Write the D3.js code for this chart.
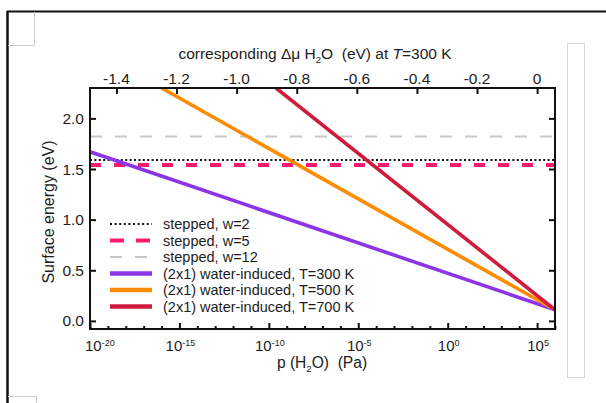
<!DOCTYPE html>
<html><head><meta charset="utf-8">
<script src="https://cdn.jsdelivr.net/npm/d3@7"></script>
<style>
body{margin:0;background:#fff}
text{font-family:"Liberation Sans",Arial,sans-serif;fill:#1c1c1c}
</style>
</head><body><svg id="c" width="606" height="403"></svg>
<script>
// ---- data ----
const pressureExpExtent = [-20, 6];          // log10 p (Pa) across the plot
const energyExtent = [-0.08, 2.3];           // eV
const muExtent = [-1.488, 0.0595];           // Δμ (eV) at 300 K across the plot
const bottomMajorExp = [-20, -15, -10, -5, 0, 5];
const bottomMajorLabels = ["-20", "-15", "-10", "-5", "0", "5"];
const bottomMinorExp = [-19,-18,-17,-16,-14,-13,-12,-11,-9,-8,-7,-6,-4,-3,-2,-1,1,2,3,4,6];
const topTickValues = [-1.4, -1.2, -1.0, -0.8, -0.6, -0.4, -0.2, 0];
const topTickLabels = ["-1.4", "-1.2", "-1.0", "-0.8", "-0.6", "-0.4", "-0.2", "0"];
const leftTickValues = [0, 0.5, 1.0, 1.5, 2.0];
const leftTickLabels = ["0.0", "0.5", "1.0", "1.5", "2.0"];

const steppedNames = ["stepped, w=2", "stepped, w=5", "stepped, w=12"];
const steppedEnergy = [1.59, 1.54, 1.82];

const waterNames = ["(2x1) water-induced, T=300 K", "(2x1) water-induced, T=500 K", "(2x1) water-induced, T=700 K"];
const waterStartExp = [-20, -16.0, -9.6];
const waterStartEnergy = [1.67, 2.30, 2.30];
const waterEndExp = [6, 6, 6];
const waterEndEnergy = [0.11, 0.11, 0.11];

// ---- styles ----
const steppedStyle = [
  {color: "#111", width: 2, dash: "2,2.4"},
  {color: "#ff1a70", width: 4, dash: "11,13"},
  {color: "#c8c8c8", width: 2, dash: "12,13"}
];
const waterColors = ["#8c35e8", "#ff8c00", "#d01c3c"];

const svg = d3.select("#c");

// page decorations
svg.append("line").attr("x1", 7).attr("x2", 606).attr("y1", 11.5).attr("y2", 11.5).attr("stroke", "#111").attr("stroke-width", 2);
svg.append("line").attr("x1", 7.5).attr("x2", 7.5).attr("y1", 11).attr("y2", 403).attr("stroke", "#111").attr("stroke-width", 2.5);
svg.append("path").attr("d", "M8,45.5H34.5V12").attr("fill", "none").attr("stroke", "#cfcfcf");
svg.append("path").attr("d", "M8,396.5H36.5V403").attr("fill", "none").attr("stroke", "#cfcfcf");
svg.append("rect").attr("x", 567.5).attr("y", 43.5).attr("width", 17).attr("height", 334).attr("fill", "none").attr("stroke", "#d6d6d6");

const L = 90, R = 555, T = 88, B = 329;
const x = d3.scaleLinear().domain(pressureExpExtent).range([L, R]);
const xTop = d3.scaleLinear().domain(muExtent).range([L, R]);
const y = d3.scaleLinear().domain(energyExtent).range([B, T]);

// clip
svg.append("clipPath").attr("id", "clip").append("rect").attr("x", L).attr("y", T).attr("width", R - L).attr("height", B - T);

const plot = svg.append("g").attr("clip-path", "url(#clip)");

// stepped lines
steppedEnergy.forEach((e, i) => {
  const s = steppedStyle[i];
  plot.append("line")
    .attr("x1", x(pressureExpExtent[0])).attr("x2", x(pressureExpExtent[1]))
    .attr("y1", y(e)).attr("y2", y(e))
    .attr("stroke", s.color).attr("stroke-width", s.width).attr("stroke-dasharray", s.dash);
});

// water-induced lines
const line = d3.line().x(d => x(d[0])).y(d => y(d[1]));
waterNames.forEach((n, i) => {
  plot.append("path")
    .attr("d", line([[waterStartExp[i], waterStartEnergy[i]], [waterEndExp[i], waterEndEnergy[i]]]))
    .attr("fill", "none").attr("stroke", waterColors[i]).attr("stroke-width", 3.6);
});

// axes ticks (inward)
function styleAxis(g) {
  g.select(".domain").remove();
  g.selectAll(".tick line").attr("stroke", "#111").attr("stroke-width", 2);
  g.selectAll(".tick text").remove();
}
svg.append("g").attr("transform", `translate(0,${B})`)
  .call(d3.axisBottom(x).tickValues(bottomMajorExp).tickSize(-6).tickFormat(""))
  .call(styleAxis);
svg.append("g").attr("transform", `translate(0,${B})`)
  .call(d3.axisBottom(x).tickValues(bottomMinorExp).tickSize(-3).tickFormat(""))
  .call(styleAxis);
svg.append("g").attr("transform", `translate(0,${T})`)
  .call(d3.axisTop(xTop).tickValues(topTickValues).tickSize(-6).tickFormat(""))
  .call(styleAxis);
svg.append("g").attr("transform", `translate(${L},0)`)
  .call(d3.axisLeft(y).tickValues(leftTickValues).tickSize(-6).tickFormat(""))
  .call(styleAxis);
svg.append("g").attr("transform", `translate(${R},0)`)
  .call(d3.axisRight(y).tickValues(leftTickValues).tickSize(-6).tickFormat(""))
  .call(styleAxis);

// frame
svg.append("rect").attr("x", L).attr("y", T).attr("width", R - L).attr("height", B - T)
  .attr("fill", "none").attr("stroke", "#111").attr("stroke-width", 2);

// tick labels
leftTickValues.forEach((v, i) => {
  svg.append("text").attr("x", 84).attr("y", y(v)).attr("dy", "0.36em")
    .attr("text-anchor", "end").attr("font-size", 15.5).text(leftTickLabels[i]);
});
topTickValues.forEach((v, i) => {
  svg.append("text").attr("x", xTop(v)).attr("y", 84)
    .attr("text-anchor", "middle").attr("font-size", 15.5).text(topTickLabels[i]);
});
bottomMajorExp.forEach((v, i) => {
  const first = i === 0;
  const t = svg.append("text").attr("x", first ? x(v) - 5 : x(v) + 1).attr("y", 351)
    .attr("text-anchor", first ? "start" : "middle").attr("font-size", 15);
  t.append("tspan").text("10");
  t.append("tspan").attr("font-size", 9).attr("dy", -5.5).text(bottomMajorLabels[i]);
});

// axis titles
const topTitle = svg.append("text").attr("x", 315).attr("y", 59).attr("text-anchor", "middle").attr("font-size", 15.5).attr("xml:space", "preserve");
topTitle.append("tspan").text("corresponding Δμ H");
topTitle.append("tspan").attr("font-size", 9.5).attr("dy", 4).text("2");
topTitle.append("tspan").attr("dy", -4).text("O  (eV) at ");
topTitle.append("tspan").attr("font-style", "italic").text("T");
topTitle.append("tspan").text("=300 K");

const botTitle = svg.append("text").attr("x", 322).attr("y", 367.5).attr("text-anchor", "middle").attr("font-size", 15.6).attr("xml:space", "preserve");
botTitle.append("tspan").text("p (H");
botTitle.append("tspan").attr("font-size", 9.5).attr("dy", 4).text("2");
botTitle.append("tspan").attr("dy", -4).text("O)  (Pa)");

svg.append("text").attr("transform", "translate(54,212) rotate(-90)")
  .attr("text-anchor", "middle").attr("font-size", 16).text("Surface energy (eV)");

// legend
const legRows = [224, 240.5, 257, 273.5, 290, 306.5];
const legItems = steppedNames.map((n, i) => ({name: n, color: steppedStyle[i].color, width: steppedStyle[i].width}))
  .concat(waterNames.map((n, i) => ({name: n, color: waterColors[i], width: 4.5})));
const legDash = ["2,2.6", "14,12", "12,13", null, null, null];
legItems.forEach((d, i) => {
  svg.append("line").attr("x1", 110).attr("x2", 152).attr("y1", legRows[i]).attr("y2", legRows[i])
    .attr("stroke", d.color).attr("stroke-width", d.width).attr("stroke-dasharray", legDash[i]);
  svg.append("text").attr("x", 163).attr("y", legRows[i]).attr("dy", "0.36em")
    .attr("font-size", 14.5).text(d.name);
});
</script></body></html>
